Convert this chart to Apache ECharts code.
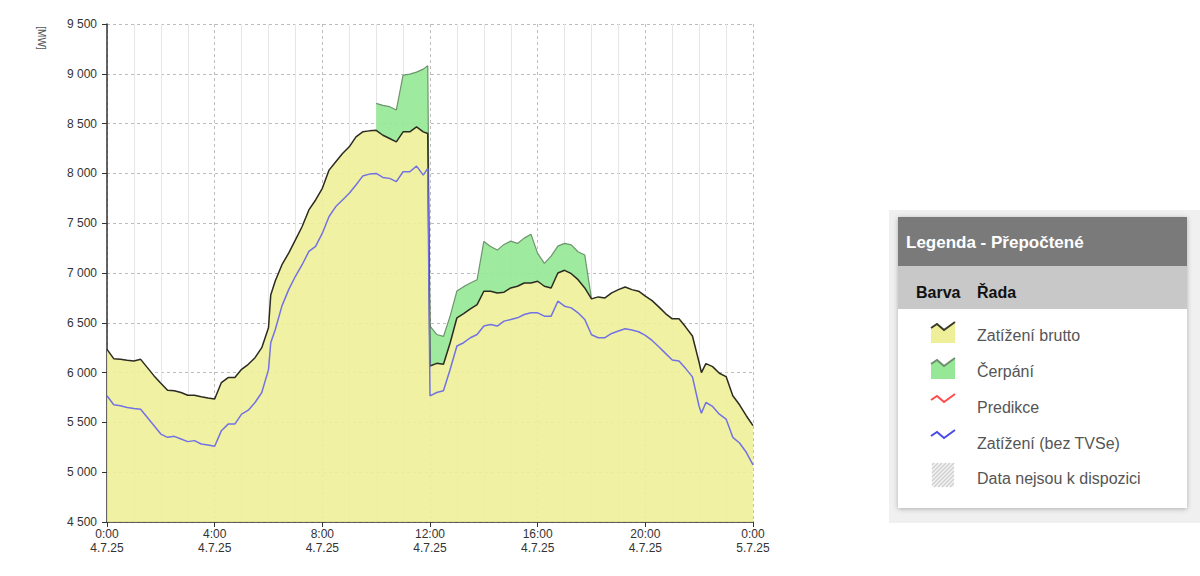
<!DOCTYPE html>
<html>
<head>
<meta charset="utf-8">
<script src="https://cdn.jsdelivr.net/npm/echarts@6/dist/echarts.min.js"></script>
<style>
html,body{margin:0;padding:0;background:#fff;}
#c{width:1200px;height:576px;}
</style>
</head>
<body>
<div id="c"></div>
<script>
// ---- data ----
const times = [
 '0:00','0:15','0:30','0:45','1:00','1:15','1:30','1:45','2:00','2:15','2:30','2:45',
 '3:00','3:15','3:30','3:45','4:00','4:15','4:30','4:45','5:00','5:15','5:30','5:45',
 '6:00','6:05','6:15','6:30','6:45','7:00','7:15','7:30','7:45','8:00','8:15','8:30','8:45',
 '9:00','9:15','9:30','9:45','10:00','10:15','10:30','10:45','11:00','11:15','11:30','11:45','11:55',
 '12:00','12:15','12:30','12:45','13:00','13:15','13:30','13:45','14:00','14:15','14:30','14:45',
 '15:00','15:15','15:30','15:45','16:00','16:15','16:30','16:45','17:00','17:15','17:30','17:45',
 '18:00','18:15','18:30','18:45','19:00','19:15','19:30','19:45','20:00','20:15','20:30','20:45',
 '21:00','21:15','21:30','21:45','22:00','22:05','22:15','22:30','22:45',
 '23:00','23:15','23:30','23:45','24:00'
];
const zatizeniBrutto = [
 6233,6140,6133,6123,6117,6133,6050,5967,5893,5823,5817,5800,
 5773,5773,5757,5745,5735,5900,5950,5950,6033,6083,6150,6250,
 6450,6780,6920,7083,7200,7333,7467,7633,7733,7850,8033,8117,8200,
 8267,8367,8417,8427,8433,8383,8350,8317,8417,8417,8467,8417,8400,
 6067,6093,6083,6300,6550,6593,6640,6683,6817,6817,6800,6807,
 6850,6867,6900,6900,6917,6867,6850,7000,7027,6993,6933,6850,
 6740,6760,6750,6800,6833,6860,6833,6817,6767,6723,6660,6593,
 6540,6540,6457,6367,6100,6000,6090,6060,5993,
 5960,5767,5677,5567,5467
];
const cerpani = [
 null,null,null,null,null,null,null,null,null,null,null,null,
 null,null,null,null,null,null,null,null,null,null,null,null,
 null,null,null,null,null,null,null,null,null,null,null,null,null,
 null,null,null,null,270,300,320,320,570,580,550,630,680,
 400,290,280,270,270,270,260,250,500,450,430,480,
 470,430,450,490,280,230,320,270,270,290,280,330,
 0,null,null,null,null,null,null,null,null,null,null,null,
 null,null,null,null,null,null,null,null,null,
 null,null,null,null,null
];
const zatizeniBezTVSe = [
 5767,5677,5667,5650,5640,5633,5550,5467,5383,5350,5360,5333,
 5307,5317,5283,5273,5260,5417,5483,5483,5583,5623,5700,5800,
 6030,6300,6430,6670,6833,6967,7083,7217,7267,7400,7567,7667,7733,
 7800,7883,7973,7993,8000,7960,7950,7917,8017,8017,8073,7983,8050,
 5767,5800,5817,6033,6267,6300,6350,6383,6467,6483,6467,6517,
 6533,6550,6583,6600,6600,6567,6567,6717,6667,6650,6600,6533,
 6380,6350,6350,6393,6417,6440,6427,6410,6373,6323,6260,6193,
 6127,6117,6040,5957,5660,5593,5700,5660,5583,
 5533,5350,5293,5200,5073
];
const xTickLabels = ['0:00\n4.7.25','4:00\n4.7.25','8:00\n4.7.25','12:00\n4.7.25','16:00\n4.7.25','20:00\n4.7.25','0:00\n5.7.25'];
const legendTitle = 'Legenda - Přepočtené';
const legendHead = ['Barva', 'Řada'];
const legendRows = ['Zatížení brutto', 'Čerpání', 'Predikce', 'Zatížení (bez TVSe)', 'Data nejsou k dispozici'];

// ---- build ----
const hours = times.map(t => { const p = t.split(':'); return +p[0] + (+p[1]) / 60; });
const pairs = arr => arr.map((v, i) => [hours[i], v]);
const cerpaniTop = cerpani.map((c, i) => c == null ? null : zatizeniBrutto[i] + c);
const FONT = '"Liberation Sans", Arial, sans-serif';

const chart = echarts.init(document.getElementById('c'), null, { renderer: 'svg' });

// legend panel graphics
const g = [];
g.push({ type: 'rect', shape: { x: 889, y: 210, width: 311, height: 313 }, style: { fill: '#f0f0f0' }, silent: true });
g.push({ type: 'rect', shape: { x: 898, y: 217, width: 289, height: 291 }, style: { fill: '#fff', shadowBlur: 5, shadowColor: 'rgba(0,0,0,0.28)', shadowOffsetY: 1 } });
g.push({ type: 'rect', shape: { x: 898, y: 217, width: 289, height: 49 }, style: { fill: '#7a7a7a' } });
g.push({ type: 'text', x: 906, y: 242, style: { text: legendTitle, fill: '#fff', font: 'bold 17px ' + FONT, verticalAlign: 'middle' } });
g.push({ type: 'rect', shape: { x: 898, y: 266, width: 289, height: 43 }, style: { fill: '#c8c8c8' } });
g.push({ type: 'text', x: 916, y: 292, style: { text: legendHead[0], fill: '#111', font: 'bold 16px ' + FONT, verticalAlign: 'middle' } });
g.push({ type: 'text', x: 977, y: 292, style: { text: legendHead[1], fill: '#111', font: 'bold 16px ' + FONT, verticalAlign: 'middle' } });
const rowY = [334, 370, 406, 442, 477];
const zig = cy => [[931, cy - 6], [937, cy - 10], [944, cy - 4], [955, cy - 12]];
const iconStyle = [
  { line: '#3a3a2a', fill: '#efef9a' },
  { line: '#6e8f6e', fill: '#96e896' },
  { line: '#ff4b4b', fill: null },
  { line: '#4a4ae6', fill: null }
];
legendRows.forEach((txt, i) => {
  const cy = rowY[i];
  if (i < 4) {
    const z = zig(cy);
    if (iconStyle[i].fill) {
      g.push({ type: 'polygon', shape: { points: z.concat([[955, cy + 9], [931, cy + 9]]) }, style: { fill: iconStyle[i].fill } });
    }
    g.push({ type: 'polyline', shape: { points: z }, style: { stroke: iconStyle[i].line, lineWidth: 2, fill: null } });
  } else {
    const x0 = 932, y0 = cy - 14, w = 22, h = 24;
    g.push({ type: 'rect', shape: { x: x0, y: y0, width: w, height: h }, style: { fill: '#f4f4f4' } });
    for (let c = x0 + y0 + 2; c < x0 + w + y0 + h; c += 4) {
      const sx = Math.max(x0, c - (y0 + h)), ex = Math.min(x0 + w, c - y0);
      if (ex > sx) g.push({ type: 'line', shape: { x1: sx, y1: c - sx, x2: ex, y2: c - ex }, style: { stroke: '#cfcfcf', lineWidth: 1.5 } });
    }
  }
  g.push({ type: 'text', x: 977, y: cy + 1, style: { text: txt, fill: '#555', font: '16px ' + FONT, verticalAlign: 'middle' } });
});
// y axis unit
g.push({ type: 'text', x: 41, y: 38, rotation: -Math.PI / 2, style: { text: '[MW]', fill: '#555', font: '10px ' + FONT, align: 'center', verticalAlign: 'middle' } });

// green band between brutto and brutto + čerpání, drawn through the axes' scales
function renderBand(params, api) {
  const children = [];
  let run = [];
  const flush = () => {
    if (run.length > 1) {
      const top = run.map(i => api.coord([hours[i], cerpaniTop[i]]));
      const bot = run.slice().reverse().map(i => api.coord([hours[i], zatizeniBrutto[i]]));
      children.push({ type: 'polygon', shape: { points: top.concat(bot) }, style: { fill: '#96e896', opacity: 0.92 } });
    }
    run = [];
  };
  cerpani.forEach((c, i) => { if (c == null) flush(); else run.push(i); });
  flush();
  return { type: 'group', children };
}

const option = {
  animation: false,
  backgroundColor: '#fff',
  grid: { left: 107, right: 447, top: 24, bottom: 54, containLabel: false, outerBoundsMode: 'none' },
  xAxis: {
    type: 'value', min: 0, max: 24, interval: 4,
    axisLine: { show: true, onZero: false, lineStyle: { color: '#333', width: 1.5 } },
    axisTick: { show: true, length: 5, lineStyle: { color: '#333' } },
    minorTick: { show: false, splitNumber: 4 },
    axisLabel: { showMinLabel: true, showMaxLabel: true, margin: 5, lineHeight: 14, fontSize: 12, fontFamily: FONT, color: '#333',
      formatter: v => xTickLabels[Math.round(v / 4)] },
    splitLine: { show: true, lineStyle: { color: '#bdbdbd', type: [3, 3], width: 1 } },
    minorSplitLine: { show: true, lineStyle: { color: '#e6e6e6', width: 1 } }
  },
  yAxis: {
    type: 'value', min: 4500, max: 9500, interval: 500,
    axisLine: { show: true, lineStyle: { color: '#333', width: 1.5 } },
    axisTick: { show: true, length: 5, lineStyle: { color: '#333' } },
    axisLabel: { margin: 10, fontSize: 12, fontFamily: FONT, color: '#333',
      formatter: v => String(v).replace(/\B(?=(\d{3})+(?!\d))/g, ' ') },
    splitLine: { show: true, lineStyle: { color: '#bdbdbd', type: [3, 3], width: 1 } }
  },
  series: [
    { name: legendRows[1] + ' plocha', type: 'custom', renderItem: renderBand, data: [[0, 4500]], z: 2, silent: true, clip: true },
    { name: legendRows[1], type: 'line', data: pairs(cerpaniTop), symbol: 'none', z: 3, connectNulls: false,
      lineStyle: { color: '#6e946e', width: 1.2 } },
    { name: legendRows[0], type: 'line', data: pairs(zatizeniBrutto), symbol: 'none', z: 4,
      lineStyle: { color: '#2b2b22', width: 1.5 }, areaStyle: { color: '#efef9a', opacity: 0.9 } },
    { name: legendRows[3], type: 'line', data: pairs(zatizeniBezTVSe), symbol: 'none', z: 5,
      lineStyle: { color: '#7272e4', width: 1.5 } }
  ],
  graphic: g
};
chart.setOption(option);
</script>
</body>
</html>
